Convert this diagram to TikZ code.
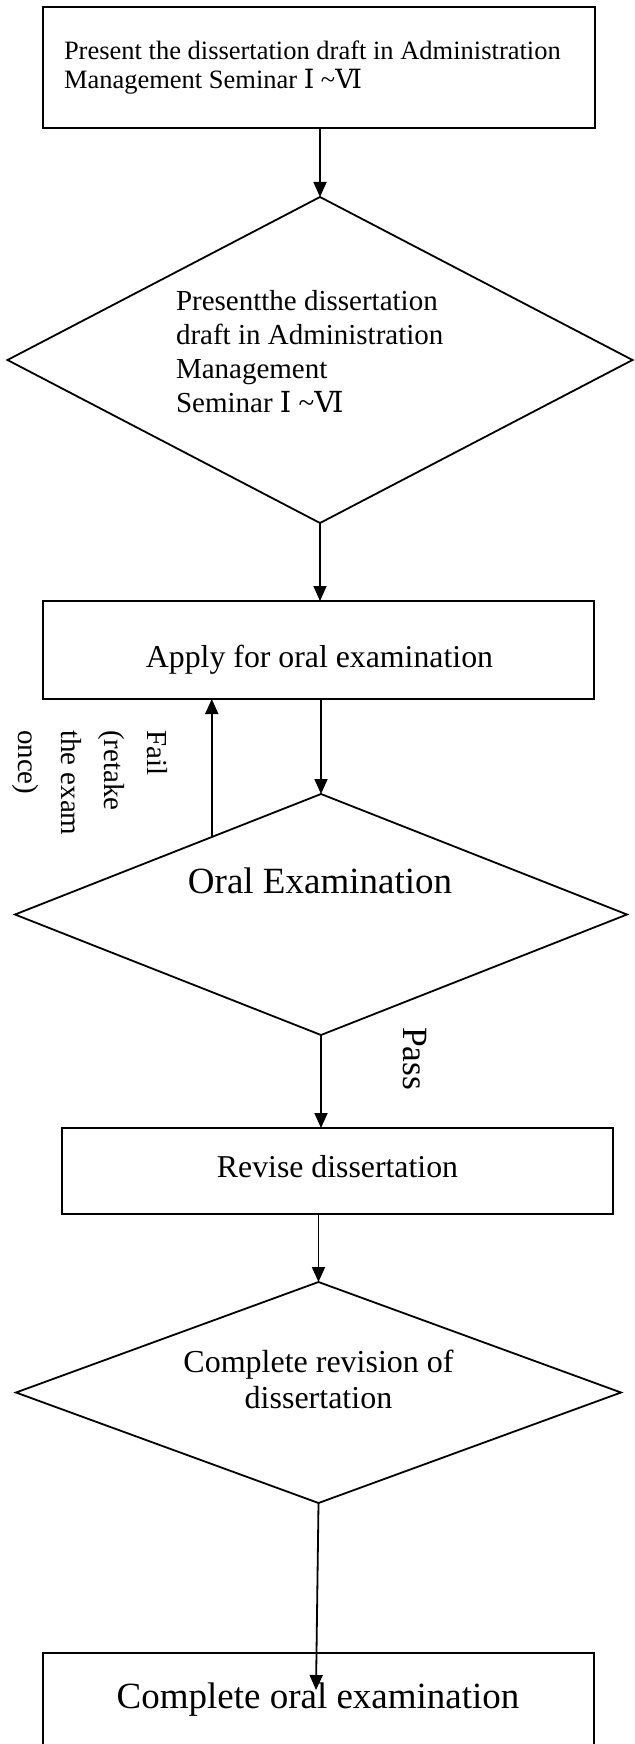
\documentclass[tikz,border=0pt]{standalone}
\usepackage{fontspec}
\setmainfont{Liberation Serif}
\newfontfamily\rnfont{DejaVu Serif}
\usetikzlibrary{shapes.geometric,arrows.meta,calc}
\newcommand{\RnI}{{\rnfont Ⅰ}}
\newcommand{\RnVI}{{\rnfont Ⅵ}}
\newcommand{\fsz}[2]{\fontsize{#1pt}{#2pt}\selectfont}
\begin{document}
\begin{tikzpicture}[x=1pt,y=-1pt,
  shp/.style={draw, line width=1.8pt, inner sep=0pt, outer sep=0pt},
  boxshape/.style={shp, rectangle},
  dia/.style={shp, diamond},
  txt/.style={inner sep=0pt, outer sep=0pt},
  arr/.style={line width=1.8pt, -{Triangle[length=15pt,width=13pt]}},
]
\useasboundingbox (0,0) rectangle (634,1744);

% shapes
\node[boxshape, minimum width=552pt, minimum height=121pt] (b1) at (319,67.5) {};
\node[dia, minimum width=625pt, minimum height=326pt] (d1) at (320,360) {};
\node[boxshape, minimum width=551pt, minimum height=98pt] (b2) at (318.5,650) {};
\node[dia, minimum width=612pt, minimum height=241pt] (d2) at (321,914.5) {};
\node[boxshape, minimum width=551pt, minimum height=86pt] (b3) at (337.5,1171) {};
\node[dia, minimum width=605pt, minimum height=221pt] (d3) at (318.5,1392.5) {};
\node[boxshape, minimum width=551pt, minimum height=147pt] (b4) at (318.5,1726.5) {};

% texts
\node[txt, anchor=north west, align=left, font=\fsz{26.5}{29}] (t1) at (64,40.7)
  {Present the dissertation draft in Administration\\Management Seminar \RnI\ \textasciitilde\RnVI};
\node[txt, anchor=north west, align=left, font=\fsz{29}{34}] (t2) at (176,290)
  {Presentthe dissertation\\draft in Administration\\Management\\Seminar \RnI\ \textasciitilde\RnVI};
\node[txt, anchor=base, font=\fsz{31.8}{36}] (t3) at (319.5,667) {Apply for oral examination};
\node[txt, anchor=base, font=\fsz{37}{42}] (t4) at (320,893) {Oral Examination};
\node[txt, anchor=north west, align=left, rotate=-90, font=\fsz{29}{43}] (tfail) at (168,730)
  {Fail\\(retake\\the exam\\once)};
\node[txt, anchor=base west, rotate=-90, font=\fsz{35.5}{40}] (tpass) at (403,1027) {Pass};
\node[txt, anchor=base, font=\fsz{31.8}{36}] (t5) at (337.5,1177) {Revise dissertation};
\node[txt, anchor=north, align=center, font=\fsz{32}{36}] (t6) at (318.5,1350)
  {Complete revision of\\dissertation};
\node[txt, anchor=base, font=\fsz{37}{42}] (t7) at (318,1708) {Complete oral examination};

% connectors
\draw[arr] (d1.north |- b1.south) -- (d1.north);
\draw[arr] (d1.south) -- (d1.south |- b2.north);
\draw[arr] (d2.north |- b2.south) -- (d2.north);
\coordinate (failstart) at ($(d2.north)!0.357!(d2.west)$);
\draw[arr] (failstart) -- (failstart |- b2.south);
\draw[arr] (d2.south) -- (d2.south |- b3.north);
\draw[arr] (d3.north |- b3.south) -- (d3.north);
\coordinate (endtip) at (316,1690);
\draw[arr] (d3.south) -- (endtip);
\end{tikzpicture}
\end{document}
